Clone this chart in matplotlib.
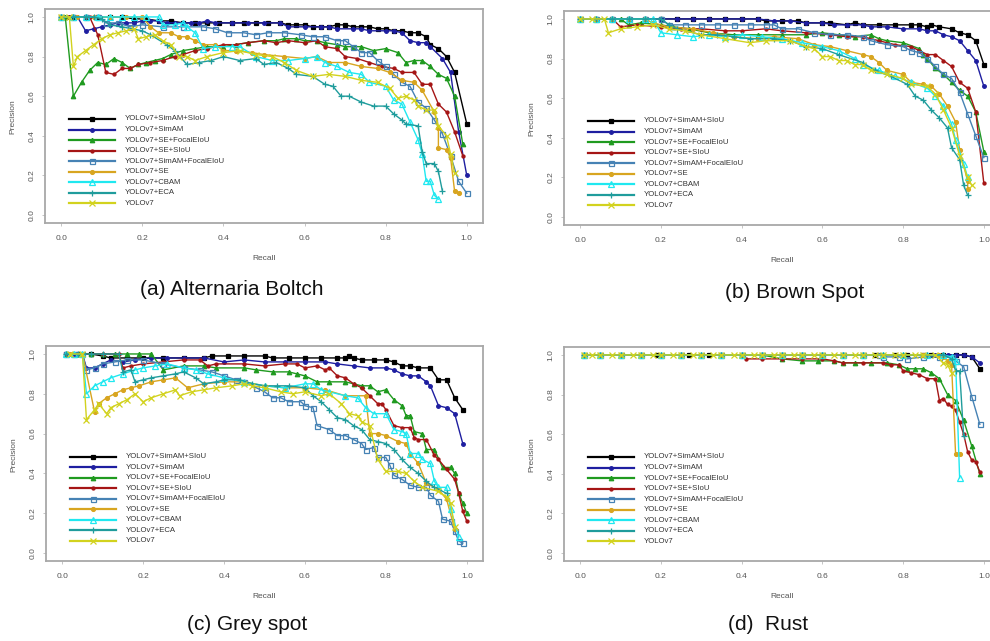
import matplotlib.pyplot as plt

plt.rcParams['font.family'] = ['Liberation Sans', 'DejaVu Sans']

LABELS = ['YOLOv7+SimAM+SIoU', 'YOLOv7+SimAM', 'YOLOv7+SE+FocalEIoU', 'YOLOv7+SE+SIoU',
          'YOLOv7+SimAM+FocalEIoU', 'YOLOv7+SE', 'YOLOv7+CBAM', 'YOLOv7+ECA', 'YOLOv7']
COLORS = ['#000000', '#1e1ea0', '#1f9a1f', '#a51515', '#4682b4',
          '#d8a520', '#1fe8f0', '#1f9c9c', '#d2d21e']
MARKERS = ['s', 'o', '^', 'o', 's', 'o', '^', '+', 'x']
MSIZES = [3.2, 2.6, 3.2, 2.2, 3.6, 2.8, 3.8, 4.5, 3.8]
FILLED = [True, True, True, True, False, True, False, True, True]
CAPTIONS = ['(a) Alternaria Boltch', '(b) Brown Spot', '(c) Grey spot', '(d)  Rust']

# ---- (a) Alternaria Boltch ----
A_SIMAM_SIOU_R = [0, 0.03, 0.06, 0.09, 0.12, 0.15, 0.18, 0.21, 0.24, 0.27, 0.30, 0.33, 0.36, 0.39, 0.42, 0.45, 0.48, 0.51, 0.54, 0.56, 0.58, 0.60, 0.62, 0.64, 0.66, 0.68, 0.70, 0.72, 0.74, 0.76, 0.78, 0.80, 0.82, 0.84, 0.86, 0.88, 0.90, 0.91, 0.93, 0.95, 0.97, 1.0]
A_SIMAM_SIOU_P = [1, 1, 1, 1, 1, 1, 0.99, 0.99, 0.98, 0.98, 0.97, 0.97, 0.97, 0.97, 0.97, 0.97, 0.97, 0.97, 0.97, 0.96, 0.96, 0.96, 0.95, 0.95, 0.95, 0.96, 0.96, 0.95, 0.95, 0.95, 0.94, 0.94, 0.93, 0.93, 0.92, 0.92, 0.90, 0.86, 0.84, 0.80, 0.72, 0.46]
A_SIMAM_R = [0, 0.02, 0.04, 0.06, 0.08, 0.10, 0.12, 0.14, 0.16, 0.18, 0.20, 0.22, 0.24, 0.26, 0.28, 0.30, 0.32, 0.34, 0.36, 0.38, 0.42, 0.46, 0.50, 0.54, 0.56, 0.60, 0.64, 0.66, 0.68, 0.72, 0.74, 0.76, 0.80, 0.82, 0.84, 0.86, 0.88, 0.90, 0.91, 0.94, 0.96, 0.98, 1.0]
A_SIMAM_P = [1, 1, 1, 0.93, 0.94, 0.95, 0.96, 0.97, 0.97, 0.97, 0.98, 0.98, 0.98, 0.97, 0.97, 0.97, 0.97, 0.97, 0.98, 0.97, 0.97, 0.97, 0.97, 0.97, 0.95, 0.95, 0.95, 0.95, 0.94, 0.94, 0.94, 0.93, 0.93, 0.93, 0.92, 0.88, 0.87, 0.87, 0.85, 0.79, 0.72, 0.42, 0.20]
A_SE_FOCAL_R = [0, 0.01, 0.03, 0.05, 0.07, 0.09, 0.11, 0.13, 0.15, 0.17, 0.19, 0.21, 0.23, 0.25, 0.27, 0.30, 0.33, 0.36, 0.40, 0.43, 0.46, 0.50, 0.53, 0.55, 0.58, 0.60, 0.63, 0.65, 0.68, 0.70, 0.72, 0.74, 0.77, 0.80, 0.83, 0.85, 0.87, 0.89, 0.91, 0.93, 0.95, 0.97, 0.99]
A_SE_FOCAL_P = [1, 1, 0.60, 0.67, 0.73, 0.77, 0.76, 0.79, 0.77, 0.74, 0.76, 0.77, 0.78, 0.79, 0.81, 0.83, 0.84, 0.85, 0.85, 0.86, 0.87, 0.88, 0.88, 0.89, 0.89, 0.88, 0.88, 0.87, 0.86, 0.85, 0.85, 0.85, 0.83, 0.84, 0.82, 0.77, 0.78, 0.78, 0.75, 0.71, 0.69, 0.60, 0.36]
A_SE_SIOU_R = [0, 0.02, 0.04, 0.06, 0.07, 0.09, 0.11, 0.13, 0.15, 0.17, 0.19, 0.22, 0.25, 0.28, 0.30, 0.33, 0.36, 0.40, 0.43, 0.46, 0.50, 0.53, 0.56, 0.60, 0.63, 0.65, 0.68, 0.70, 0.73, 0.76, 0.79, 0.82, 0.84, 0.87, 0.89, 0.91, 0.93, 0.95, 0.97, 0.99]
A_SE_SIOU_P = [1, 1, 1, 1, 1, 0.91, 0.72, 0.71, 0.74, 0.74, 0.76, 0.77, 0.78, 0.80, 0.81, 0.83, 0.84, 0.86, 0.86, 0.87, 0.88, 0.87, 0.88, 0.87, 0.88, 0.85, 0.84, 0.80, 0.79, 0.77, 0.75, 0.74, 0.72, 0.72, 0.66, 0.66, 0.56, 0.52, 0.42, 0.30]
A_SIMAM_FOCAL_R = [0, 0.03, 0.06, 0.09, 0.11, 0.14, 0.17, 0.20, 0.25, 0.30, 0.35, 0.38, 0.41, 0.45, 0.48, 0.51, 0.55, 0.59, 0.62, 0.65, 0.68, 0.70, 0.72, 0.74, 0.76, 0.78, 0.80, 0.82, 0.84, 0.86, 0.88, 0.90, 0.92, 0.94, 0.96, 0.98, 1.0]
A_SIMAM_FOCAL_P = [1, 1, 1, 1, 0.97, 0.97, 0.95, 0.96, 0.95, 0.95, 0.95, 0.94, 0.92, 0.92, 0.91, 0.92, 0.92, 0.91, 0.90, 0.90, 0.88, 0.88, 0.85, 0.82, 0.82, 0.78, 0.75, 0.71, 0.67, 0.65, 0.57, 0.54, 0.48, 0.41, 0.30, 0.17, 0.11]
A_SE_R = [0, 0.04, 0.08, 0.12, 0.16, 0.20, 0.22, 0.24, 0.27, 0.29, 0.31, 0.33, 0.35, 0.38, 0.40, 0.43, 0.47, 0.50, 0.55, 0.60, 0.63, 0.66, 0.70, 0.74, 0.78, 0.81, 0.84, 0.87, 0.89, 0.92, 0.93, 0.93, 0.95, 0.96, 0.97, 0.98]
A_SE_P = [1, 1, 1, 1, 1, 1, 0.95, 0.92, 0.92, 0.90, 0.90, 0.88, 0.86, 0.86, 0.83, 0.83, 0.82, 0.81, 0.80, 0.79, 0.80, 0.77, 0.77, 0.75, 0.74, 0.72, 0.68, 0.67, 0.63, 0.52, 0.44, 0.34, 0.33, 0.29, 0.12, 0.11]
A_CBAM_R = [0, 0.03, 0.06, 0.09, 0.12, 0.15, 0.18, 0.21, 0.24, 0.25, 0.28, 0.30, 0.31, 0.33, 0.35, 0.38, 0.42, 0.44, 0.48, 0.52, 0.56, 0.60, 0.63, 0.65, 0.68, 0.71, 0.74, 0.76, 0.80, 0.82, 0.84, 0.86, 0.88, 0.89, 0.90, 0.91, 0.92, 0.93]
A_CBAM_P = [1, 1, 1, 1, 1, 1, 1, 1, 1, 0.96, 0.96, 0.97, 0.95, 0.92, 0.84, 0.85, 0.85, 0.85, 0.80, 0.78, 0.78, 0.79, 0.80, 0.77, 0.75, 0.72, 0.71, 0.67, 0.65, 0.58, 0.56, 0.47, 0.38, 0.31, 0.17, 0.17, 0.10, 0.08]
A_ECA_R = [0, 0.03, 0.06, 0.08, 0.10, 0.12, 0.15, 0.20, 0.22, 0.26, 0.28, 0.31, 0.34, 0.37, 0.40, 0.44, 0.48, 0.50, 0.53, 0.56, 0.58, 0.62, 0.65, 0.67, 0.69, 0.71, 0.74, 0.77, 0.80, 0.82, 0.84, 0.85, 0.88, 0.89, 0.90, 0.92, 0.93, 0.94]
A_ECA_P = [1, 1, 1, 1, 0.99, 0.96, 0.95, 0.93, 0.91, 0.86, 0.83, 0.76, 0.77, 0.78, 0.80, 0.78, 0.79, 0.76, 0.77, 0.74, 0.71, 0.70, 0.66, 0.65, 0.60, 0.60, 0.57, 0.55, 0.55, 0.51, 0.48, 0.46, 0.45, 0.32, 0.26, 0.26, 0.22, 0.12]
A_BASE_R = [0, 0.02, 0.03, 0.04, 0.06, 0.08, 0.10, 0.12, 0.14, 0.16, 0.18, 0.19, 0.21, 0.23, 0.25, 0.27, 0.29, 0.31, 0.33, 0.36, 0.40, 0.44, 0.48, 0.52, 0.55, 0.58, 0.62, 0.66, 0.70, 0.74, 0.78, 0.81, 0.83, 0.85, 0.87, 0.88, 0.90, 0.92, 0.93, 0.95, 0.96, 0.97]
A_BASE_P = [1, 1, 0.75, 0.80, 0.83, 0.86, 0.89, 0.91, 0.92, 0.93, 0.94, 0.89, 0.90, 0.91, 0.88, 0.86, 0.80, 0.80, 0.78, 0.80, 0.82, 0.83, 0.81, 0.80, 0.77, 0.73, 0.70, 0.71, 0.70, 0.68, 0.67, 0.64, 0.59, 0.60, 0.58, 0.55, 0.53, 0.53, 0.45, 0.40, 0.31, 0.21]

# ---- (b) Brown Spot ----
B_SIMAM_SIOU_R = [0, 0.04, 0.08, 0.12, 0.16, 0.20, 0.24, 0.28, 0.32, 0.36, 0.40, 0.44, 0.46, 0.50, 0.54, 0.56, 0.60, 0.62, 0.66, 0.68, 0.70, 0.74, 0.78, 0.82, 0.84, 0.86, 0.87, 0.89, 0.92, 0.94, 0.96, 0.98, 1.0]
B_SIMAM_SIOU_P = [1, 1, 1, 1, 1, 1, 1, 1, 1, 1, 1, 1, 0.99, 0.99, 0.99, 0.98, 0.98, 0.98, 0.97, 0.98, 0.97, 0.97, 0.97, 0.97, 0.97, 0.96, 0.97, 0.96, 0.95, 0.93, 0.92, 0.89, 0.77]
B_SIMAM_R = [0, 0.04, 0.08, 0.12, 0.16, 0.20, 0.24, 0.28, 0.32, 0.36, 0.40, 0.44, 0.48, 0.52, 0.56, 0.60, 0.63, 0.66, 0.70, 0.72, 0.76, 0.80, 0.84, 0.86, 0.88, 0.90, 0.92, 0.94, 0.96, 0.98, 1.0]
B_SIMAM_P = [1, 1, 1, 1, 1, 1, 1, 1, 1, 1, 1, 1, 0.99, 0.99, 0.98, 0.98, 0.97, 0.97, 0.97, 0.96, 0.96, 0.95, 0.95, 0.94, 0.94, 0.92, 0.91, 0.89, 0.84, 0.79, 0.66]
B_SE_FOCAL_R = [0, 0.04, 0.08, 0.10, 0.12, 0.15, 0.20, 0.23, 0.27, 0.32, 0.38, 0.44, 0.50, 0.56, 0.60, 0.64, 0.68, 0.72, 0.74, 0.76, 0.80, 0.84, 0.85, 0.86, 0.88, 0.90, 0.92, 0.94, 0.96, 0.98, 1.0]
B_SE_FOCAL_P = [1, 1, 1, 1, 0.97, 0.98, 0.97, 0.96, 0.95, 0.93, 0.92, 0.92, 0.92, 0.92, 0.93, 0.92, 0.91, 0.92, 0.90, 0.89, 0.88, 0.85, 0.82, 0.80, 0.75, 0.72, 0.68, 0.64, 0.61, 0.53, 0.33]
B_SE_SIOU_R = [0, 0.04, 0.08, 0.10, 0.14, 0.20, 0.25, 0.30, 0.36, 0.40, 0.46, 0.50, 0.56, 0.62, 0.66, 0.70, 0.74, 0.78, 0.82, 0.84, 0.86, 0.88, 0.90, 0.92, 0.94, 0.96, 0.98, 1.0]
B_SE_SIOU_P = [1, 1, 1, 0.96, 0.97, 0.96, 0.95, 0.95, 0.94, 0.94, 0.95, 0.94, 0.93, 0.92, 0.91, 0.91, 0.89, 0.87, 0.86, 0.84, 0.82, 0.82, 0.79, 0.76, 0.68, 0.65, 0.53, 0.17]
B_SIMAM_FOCAL_R = [0, 0.04, 0.08, 0.12, 0.16, 0.20, 0.22, 0.26, 0.30, 0.34, 0.38, 0.42, 0.46, 0.48, 0.50, 0.54, 0.58, 0.62, 0.66, 0.70, 0.72, 0.76, 0.80, 0.82, 0.84, 0.86, 0.88, 0.90, 0.92, 0.94, 0.96, 0.98, 1.0]
B_SIMAM_FOCAL_P = [1, 1, 1, 1, 1, 1, 0.97, 0.97, 0.97, 0.97, 0.97, 0.97, 0.97, 0.97, 0.95, 0.95, 0.93, 0.92, 0.92, 0.91, 0.89, 0.87, 0.86, 0.84, 0.83, 0.80, 0.76, 0.72, 0.70, 0.63, 0.52, 0.41, 0.30]
B_SE_R = [0, 0.04, 0.08, 0.12, 0.16, 0.18, 0.22, 0.28, 0.33, 0.38, 0.44, 0.48, 0.54, 0.58, 0.62, 0.66, 0.70, 0.72, 0.74, 0.76, 0.80, 0.82, 0.85, 0.87, 0.89, 0.91, 0.93, 0.94, 0.96, 0.96]
B_SE_P = [1, 1, 1, 1, 1, 0.98, 0.96, 0.95, 0.93, 0.91, 0.90, 0.91, 0.90, 0.87, 0.86, 0.84, 0.82, 0.81, 0.78, 0.74, 0.72, 0.68, 0.67, 0.66, 0.62, 0.56, 0.48, 0.34, 0.18, 0.14]
B_CBAM_R = [0, 0.04, 0.08, 0.12, 0.16, 0.18, 0.20, 0.24, 0.28, 0.32, 0.36, 0.40, 0.45, 0.50, 0.55, 0.60, 0.64, 0.68, 0.70, 0.74, 0.78, 0.82, 0.86, 0.88, 0.90, 0.92, 0.93, 0.95, 0.96]
B_CBAM_P = [1, 1, 1, 1, 1, 1, 0.93, 0.92, 0.91, 0.92, 0.91, 0.92, 0.91, 0.90, 0.88, 0.86, 0.84, 0.80, 0.77, 0.74, 0.71, 0.68, 0.65, 0.61, 0.56, 0.47, 0.39, 0.27, 0.20]
B_ECA_R = [0, 0.04, 0.08, 0.12, 0.16, 0.20, 0.22, 0.24, 0.30, 0.34, 0.38, 0.42, 0.48, 0.52, 0.56, 0.60, 0.64, 0.70, 0.73, 0.77, 0.81, 0.83, 0.85, 0.87, 0.89, 0.91, 0.92, 0.94, 0.95, 0.96]
B_ECA_P = [1, 1, 1, 1, 1, 1, 0.97, 0.95, 0.92, 0.92, 0.91, 0.90, 0.90, 0.89, 0.86, 0.85, 0.82, 0.78, 0.74, 0.71, 0.67, 0.61, 0.59, 0.54, 0.50, 0.45, 0.35, 0.29, 0.16, 0.11]
B_BASE_R = [0, 0.03, 0.06, 0.07, 0.10, 0.14, 0.18, 0.22, 0.26, 0.30, 0.36, 0.42, 0.46, 0.52, 0.56, 0.58, 0.60, 0.62, 0.64, 0.66, 0.68, 0.70, 0.72, 0.76, 0.80, 0.82, 0.86, 0.88, 0.90, 0.92, 0.94, 0.96, 0.97]
B_BASE_P = [1, 1, 1, 0.93, 0.95, 0.96, 0.97, 0.95, 0.94, 0.92, 0.90, 0.88, 0.89, 0.89, 0.86, 0.85, 0.81, 0.81, 0.79, 0.79, 0.77, 0.77, 0.74, 0.72, 0.70, 0.67, 0.66, 0.62, 0.54, 0.45, 0.31, 0.20, 0.16]

# ---- (c) Grey spot ----
C_SIMAM_SIOU_R = [0.01, 0.04, 0.07, 0.10, 0.12, 0.16, 0.20, 0.25, 0.30, 0.35, 0.37, 0.41, 0.45, 0.50, 0.52, 0.56, 0.60, 0.64, 0.68, 0.70, 0.71, 0.72, 0.74, 0.77, 0.80, 0.82, 0.84, 0.86, 0.88, 0.91, 0.93, 0.95, 0.97, 0.99]
C_SIMAM_SIOU_P = [1, 1, 1, 0.99, 0.98, 0.98, 0.98, 0.98, 0.98, 0.98, 0.99, 0.99, 0.99, 0.99, 0.98, 0.98, 0.98, 0.98, 0.98, 0.98, 0.99, 0.98, 0.97, 0.97, 0.97, 0.96, 0.94, 0.94, 0.93, 0.93, 0.87, 0.87, 0.78, 0.72]
C_SIMAM_R = [0.01, 0.03, 0.05, 0.06, 0.08, 0.10, 0.12, 0.15, 0.18, 0.22, 0.26, 0.30, 0.35, 0.40, 0.45, 0.50, 0.55, 0.60, 0.65, 0.68, 0.72, 0.76, 0.80, 0.82, 0.84, 0.86, 0.88, 0.90, 0.91, 0.93, 0.95, 0.97, 0.99]
C_SIMAM_P = [1, 1, 1, 0.93, 0.93, 0.95, 0.97, 0.96, 0.97, 0.98, 0.98, 0.98, 0.98, 0.96, 0.97, 0.96, 0.96, 0.96, 0.96, 0.95, 0.94, 0.93, 0.93, 0.92, 0.90, 0.89, 0.89, 0.86, 0.84, 0.74, 0.73, 0.70, 0.55]
C_SE_FOCAL_R = [0.01, 0.04, 0.07, 0.10, 0.13, 0.16, 0.19, 0.22, 0.25, 0.30, 0.35, 0.38, 0.45, 0.48, 0.52, 0.56, 0.58, 0.60, 0.63, 0.66, 0.70, 0.72, 0.74, 0.76, 0.78, 0.80, 0.82, 0.84, 0.85, 0.86, 0.87, 0.89, 0.90, 0.92, 0.94, 0.96, 0.97, 0.98, 0.99, 1.0]
C_SE_FOCAL_P = [1, 1, 1, 1, 1, 1, 1, 1, 0.92, 0.94, 0.94, 0.93, 0.93, 0.92, 0.91, 0.91, 0.90, 0.89, 0.86, 0.86, 0.86, 0.85, 0.84, 0.84, 0.81, 0.82, 0.77, 0.74, 0.69, 0.69, 0.61, 0.60, 0.52, 0.52, 0.43, 0.43, 0.40, 0.30, 0.25, 0.20]
C_SE_SIOU_R = [0.01, 0.05, 0.10, 0.14, 0.15, 0.17, 0.20, 0.25, 0.30, 0.34, 0.36, 0.38, 0.45, 0.50, 0.55, 0.58, 0.60, 0.63, 0.65, 0.66, 0.68, 0.70, 0.72, 0.74, 0.76, 0.78, 0.79, 0.80, 0.82, 0.84, 0.86, 0.87, 0.88, 0.90, 0.92, 0.93, 0.95, 0.97, 0.98, 0.99, 1.0]
C_SE_SIOU_P = [1, 1, 1, 1, 0.93, 0.94, 0.95, 0.96, 0.97, 0.97, 0.94, 0.95, 0.95, 0.94, 0.95, 0.95, 0.93, 0.94, 0.92, 0.93, 0.89, 0.88, 0.85, 0.83, 0.79, 0.75, 0.75, 0.72, 0.64, 0.63, 0.63, 0.58, 0.57, 0.57, 0.49, 0.47, 0.42, 0.37, 0.30, 0.21, 0.16]
C_SIMAM_FOCAL_R = [0.01, 0.03, 0.05, 0.06, 0.08, 0.10, 0.13, 0.16, 0.20, 0.25, 0.30, 0.34, 0.37, 0.40, 0.43, 0.45, 0.48, 0.50, 0.52, 0.54, 0.56, 0.59, 0.60, 0.62, 0.63, 0.66, 0.68, 0.70, 0.72, 0.74, 0.75, 0.77, 0.78, 0.80, 0.81, 0.82, 0.84, 0.86, 0.88, 0.90, 0.91, 0.93, 0.94, 0.96, 0.97, 0.98, 0.99]
C_SIMAM_FOCAL_P = [1, 1, 1, 0.92, 0.93, 0.95, 0.96, 0.97, 0.97, 0.95, 0.93, 0.92, 0.91, 0.89, 0.87, 0.86, 0.83, 0.81, 0.78, 0.78, 0.76, 0.76, 0.74, 0.73, 0.64, 0.62, 0.59, 0.59, 0.57, 0.55, 0.52, 0.53, 0.48, 0.48, 0.44, 0.39, 0.37, 0.34, 0.33, 0.33, 0.29, 0.26, 0.17, 0.16, 0.11, 0.06, 0.05]
C_SE_R = [0.02, 0.05, 0.08, 0.09, 0.11, 0.13, 0.15, 0.17, 0.19, 0.22, 0.25, 0.28, 0.31, 0.35, 0.40, 0.45, 0.50, 0.55, 0.60, 0.65, 0.70, 0.75, 0.76, 0.78, 0.80, 0.83, 0.85, 0.86, 0.88, 0.90, 0.93, 0.95, 0.97]
C_SE_P = [1, 1, 0.71, 0.75, 0.78, 0.80, 0.82, 0.83, 0.84, 0.86, 0.87, 0.88, 0.83, 0.85, 0.86, 0.86, 0.84, 0.83, 0.83, 0.82, 0.79, 0.79, 0.60, 0.60, 0.59, 0.56, 0.55, 0.50, 0.45, 0.35, 0.32, 0.27, 0.12]
C_CBAM_R = [0.01, 0.03, 0.05, 0.06, 0.08, 0.10, 0.12, 0.15, 0.18, 0.20, 0.23, 0.26, 0.30, 0.33, 0.36, 0.40, 0.45, 0.50, 0.55, 0.60, 0.62, 0.64, 0.66, 0.70, 0.73, 0.75, 0.77, 0.80, 0.82, 0.84, 0.85, 0.86, 0.88, 0.89, 0.91, 0.92, 0.93, 0.95, 0.96, 0.98]
C_CBAM_P = [1, 1, 1, 0.80, 0.84, 0.86, 0.88, 0.90, 0.92, 0.93, 0.94, 0.95, 0.93, 0.92, 0.90, 0.88, 0.86, 0.84, 0.83, 0.85, 0.85, 0.82, 0.81, 0.79, 0.78, 0.73, 0.70, 0.70, 0.62, 0.61, 0.60, 0.50, 0.50, 0.47, 0.45, 0.36, 0.33, 0.33, 0.22, 0.08]
C_ECA_R = [0.01, 0.04, 0.07, 0.10, 0.14, 0.15, 0.17, 0.18, 0.20, 0.22, 0.25, 0.28, 0.30, 0.33, 0.35, 0.38, 0.40, 0.44, 0.47, 0.50, 0.53, 0.56, 0.60, 0.62, 0.64, 0.66, 0.68, 0.70, 0.72, 0.74, 0.76, 0.78, 0.80, 0.82, 0.84, 0.86, 0.88, 0.90, 0.92, 0.95]
C_ECA_P = [1, 1, 1, 1, 1, 0.91, 0.92, 0.86, 0.87, 0.88, 0.89, 0.90, 0.91, 0.88, 0.85, 0.86, 0.87, 0.87, 0.85, 0.84, 0.84, 0.84, 0.83, 0.79, 0.76, 0.72, 0.68, 0.67, 0.64, 0.62, 0.57, 0.56, 0.55, 0.52, 0.47, 0.43, 0.40, 0.36, 0.33, 0.30]
C_BASE_R = [0.02, 0.05, 0.06, 0.08, 0.09, 0.11, 0.12, 0.14, 0.16, 0.18, 0.20, 0.22, 0.25, 0.28, 0.29, 0.32, 0.35, 0.38, 0.42, 0.45, 0.47, 0.50, 0.54, 0.57, 0.60, 0.64, 0.66, 0.69, 0.71, 0.73, 0.74, 0.76, 0.78, 0.80, 0.83, 0.85, 0.87, 0.89, 0.93, 0.95, 0.96, 0.97]
C_BASE_P = [1, 1, 0.67, 0.72, 0.75, 0.70, 0.73, 0.75, 0.77, 0.80, 0.76, 0.78, 0.80, 0.82, 0.79, 0.81, 0.82, 0.83, 0.84, 0.85, 0.84, 0.83, 0.81, 0.80, 0.81, 0.79, 0.80, 0.75, 0.70, 0.69, 0.66, 0.64, 0.47, 0.41, 0.41, 0.40, 0.36, 0.33, 0.31, 0.28, 0.25, 0.13]

# ---- (d) Rust ----
D_SIMAM_SIOU_R = [0.01, 0.05, 0.10, 0.15, 0.19, 0.25, 0.27, 0.32, 0.35, 0.40, 0.45, 0.50, 0.55, 0.60, 0.65, 0.70, 0.73, 0.78, 0.81, 0.85, 0.87, 0.90, 0.93, 0.95, 0.97, 0.99]
D_SIMAM_SIOU_P = [1, 1, 1, 1, 1, 1, 1, 1, 1, 1, 1, 1, 1, 1, 1, 1, 1, 1, 1, 1, 1, 1, 1, 1, 0.99, 0.93]
D_SIMAM_R = [0.01, 0.05, 0.10, 0.15, 0.20, 0.25, 0.30, 0.35, 0.40, 0.45, 0.50, 0.55, 0.60, 0.65, 0.70, 0.75, 0.80, 0.85, 0.88, 0.91, 0.93, 0.95, 0.97, 0.99]
D_SIMAM_P = [1, 1, 1, 1, 1, 1, 1, 1, 1, 1, 1, 1, 1, 1, 1, 1, 1, 1, 1, 1, 1, 1, 0.99, 0.96]
D_SE_FOCAL_R = [0.01, 0.05, 0.10, 0.15, 0.20, 0.25, 0.30, 0.35, 0.40, 0.45, 0.50, 0.55, 0.59, 0.63, 0.65, 0.68, 0.72, 0.76, 0.79, 0.81, 0.83, 0.85, 0.87, 0.89, 0.91, 0.93, 0.95, 0.97, 0.99]
D_SE_FOCAL_P = [1, 1, 1, 1, 1, 1, 1, 1, 1, 1, 0.98, 0.97, 0.97, 0.97, 0.96, 0.96, 0.96, 0.96, 0.95, 0.93, 0.93, 0.93, 0.91, 0.88, 0.80, 0.77, 0.67, 0.54, 0.40]
D_SE_SIOU_R = [0.01, 0.05, 0.10, 0.15, 0.20, 0.25, 0.30, 0.35, 0.40, 0.41, 0.45, 0.50, 0.55, 0.60, 0.63, 0.65, 0.70, 0.75, 0.77, 0.79, 0.80, 0.82, 0.84, 0.86, 0.88, 0.89, 0.90, 0.91, 0.92, 0.93, 0.94, 0.95, 0.96, 0.97, 0.98, 0.99]
D_SE_SIOU_P = [1, 1, 1, 1, 1, 1, 1, 1, 1, 0.98, 0.98, 0.98, 0.98, 0.98, 0.97, 0.96, 0.96, 0.96, 0.95, 0.95, 0.92, 0.91, 0.90, 0.88, 0.88, 0.77, 0.78, 0.75, 0.74, 0.72, 0.66, 0.60, 0.51, 0.47, 0.46, 0.41]
D_SIMAM_FOCAL_R = [0.01, 0.05, 0.10, 0.15, 0.20, 0.25, 0.30, 0.35, 0.40, 0.45, 0.50, 0.55, 0.60, 0.65, 0.70, 0.74, 0.75, 0.79, 0.81, 0.85, 0.89, 0.92, 0.93, 0.95, 0.97, 0.99]
D_SIMAM_FOCAL_P = [1, 1, 1, 1, 1, 1, 1, 1, 1, 1, 1, 1, 1, 1, 1, 1, 0.99, 0.99, 0.98, 0.99, 0.99, 0.99, 0.97, 0.94, 0.79, 0.65]
D_SE_R = [0.01, 0.05, 0.10, 0.15, 0.20, 0.25, 0.30, 0.35, 0.40, 0.45, 0.50, 0.55, 0.60, 0.65, 0.70, 0.75, 0.80, 0.85, 0.89, 0.90, 0.91, 0.92, 0.93, 0.94]
D_SE_P = [1, 1, 1, 1, 1, 1, 1, 1, 1, 1, 1, 1, 1, 1, 1, 1, 1, 1, 1, 0.99, 0.97, 0.95, 0.50, 0.50]
D_CBAM_R = [0.01, 0.05, 0.10, 0.15, 0.20, 0.25, 0.30, 0.35, 0.40, 0.45, 0.50, 0.55, 0.60, 0.65, 0.70, 0.75, 0.80, 0.86, 0.90, 0.92, 0.93, 0.94]
D_CBAM_P = [1, 1, 1, 1, 1, 1, 1, 1, 1, 1, 1, 1, 1, 1, 1, 1, 1, 1, 1, 0.99, 0.97, 0.38]
D_ECA_R = [0.01, 0.05, 0.10, 0.15, 0.20, 0.25, 0.30, 0.35, 0.40, 0.45, 0.50, 0.55, 0.60, 0.65, 0.70, 0.75, 0.80, 0.86, 0.90, 0.92, 0.93, 0.94, 0.95]
D_ECA_P = [1, 1, 1, 1, 1, 1, 1, 1, 1, 1, 1, 1, 1, 1, 1, 1, 1, 1, 1, 0.98, 0.92, 0.92, 0.59]
D_BASE_R = [0.01, 0.03, 0.05, 0.08, 0.10, 0.13, 0.15, 0.18, 0.20, 0.23, 0.25, 0.28, 0.30, 0.33, 0.35, 0.38, 0.40, 0.43, 0.45, 0.48, 0.50, 0.53, 0.55, 0.58, 0.60, 0.63, 0.65, 0.68, 0.70, 0.73, 0.75, 0.78, 0.80, 0.83, 0.85, 0.88, 0.90, 0.91, 0.92]
D_BASE_P = [1, 1, 1, 1, 1, 1, 1, 1, 1, 1, 1, 1, 1, 1, 1, 1, 1, 1, 1, 1, 1, 1, 1, 1, 1, 1, 1, 1, 1, 1, 1, 1, 1, 1, 1, 1, 0.96, 0.95, 0.91]

PANEL_DATA = [
    [(A_SIMAM_SIOU_R, A_SIMAM_SIOU_P), (A_SIMAM_R, A_SIMAM_P), (A_SE_FOCAL_R, A_SE_FOCAL_P),
     (A_SE_SIOU_R, A_SE_SIOU_P), (A_SIMAM_FOCAL_R, A_SIMAM_FOCAL_P), (A_SE_R, A_SE_P),
     (A_CBAM_R, A_CBAM_P), (A_ECA_R, A_ECA_P), (A_BASE_R, A_BASE_P)],
    [(B_SIMAM_SIOU_R, B_SIMAM_SIOU_P), (B_SIMAM_R, B_SIMAM_P), (B_SE_FOCAL_R, B_SE_FOCAL_P),
     (B_SE_SIOU_R, B_SE_SIOU_P), (B_SIMAM_FOCAL_R, B_SIMAM_FOCAL_P), (B_SE_R, B_SE_P),
     (B_CBAM_R, B_CBAM_P), (B_ECA_R, B_ECA_P), (B_BASE_R, B_BASE_P)],
    [(C_SIMAM_SIOU_R, C_SIMAM_SIOU_P), (C_SIMAM_R, C_SIMAM_P), (C_SE_FOCAL_R, C_SE_FOCAL_P),
     (C_SE_SIOU_R, C_SE_SIOU_P), (C_SIMAM_FOCAL_R, C_SIMAM_FOCAL_P), (C_SE_R, C_SE_P),
     (C_CBAM_R, C_CBAM_P), (C_ECA_R, C_ECA_P), (C_BASE_R, C_BASE_P)],
    [(D_SIMAM_SIOU_R, D_SIMAM_SIOU_P), (D_SIMAM_R, D_SIMAM_P), (D_SE_FOCAL_R, D_SE_FOCAL_P),
     (D_SE_SIOU_R, D_SE_SIOU_P), (D_SIMAM_FOCAL_R, D_SIMAM_FOCAL_P), (D_SE_R, D_SE_P),
     (D_CBAM_R, D_CBAM_P), (D_ECA_R, D_ECA_P), (D_BASE_R, D_BASE_P)],
]

TICKS = [0.0, 0.2, 0.4, 0.6, 0.8, 1.0]

fig = plt.figure(figsize=(9.9, 6.41), dpi=100)
W, H = 990, 641
# axes boxes in pixels: left, top, right, bottom
boxes = [(45, 9, 483, 223), (564, 11, 1000, 225), (46, 346, 483, 561), (564, 347, 1000, 561)]
cap_pos = [(232, 290), (795, 292), (247, 625), (768, 625)]

for k in range(4):
    l, t, r, b = boxes[k]
    ax = fig.add_axes([l / W, 1 - b / H, (r - l) / W, (b - t) / H])
    for i, (rec, prec) in enumerate(PANEL_DATA[k]):
        mfc = COLORS[i] if FILLED[i] else 'none'
        ax.plot(rec, prec, color=COLORS[i], lw=1.0, marker=MARKERS[i], ms=MSIZES[i],
                mfc=mfc, mec=COLORS[i], mew=0.9)
    ax.set_xlim(-0.04, 1.04)
    ax.set_ylim(-0.04, 1.04)
    ax.set_xticks(TICKS)
    ax.set_yticks(TICKS)
    ax.set_xticklabels(['%.1f' % v for v in TICKS])
    ax.set_yticklabels(['%.1f' % v for v in TICKS])
    ax.tick_params(length=2, width=0.6, color='#bbbbbb', labelsize=6, labelcolor='#555555')
    ax.tick_params(axis='x', pad=6.5)
    ax.tick_params(axis='y', pad=5, labelrotation=90)
    for lab in ax.get_yticklabels():
        lab.set_va('center')
    for sp in ax.spines.values():
        sp.set_color('#a8a8a8')
        sp.set_linewidth(1.3)
    ax.text(0.5, -0.164, 'Recall', transform=ax.transAxes, ha='center', va='center',
            fontsize=6, color='#555555')
    ax.text(-0.073, 0.495, 'Precision', transform=ax.transAxes, ha='center', va='center',
            rotation=90, fontsize=6, color='#555555')

    # legend drawn by hand, R style
    for i in range(len(LABELS)):
        y = 0.486 - i * 0.0491
        mfc = COLORS[i] if FILLED[i] else 'none'
        ax.plot([0.055, 0.160], [y, y], transform=ax.transAxes, color=COLORS[i], lw=1.6,
                clip_on=False)
        ax.plot([0.1075], [y], transform=ax.transAxes, color=COLORS[i], marker=MARKERS[i],
                ms=MSIZES[i], mfc=mfc, mec=COLORS[i], mew=0.9, clip_on=False)
        ax.text(0.183, y, LABELS[i], transform=ax.transAxes, ha='left', va='center',
                fontsize=5.6, color='#333333')

    cx, cy = cap_pos[k]
    fig.text(cx / W, 1 - cy / H, CAPTIONS[k], ha='center', va='center', fontsize=15,
             color='#111111')

fig.savefig('out.png', dpi=100)
